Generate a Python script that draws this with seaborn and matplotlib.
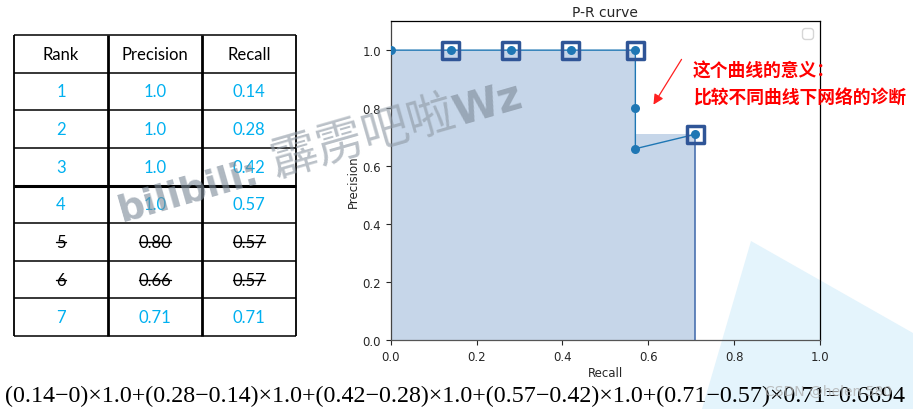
import numpy as np
import matplotlib
matplotlib.use('Agg')
import matplotlib.pyplot as plt
import seaborn as sns
from matplotlib.patches import Polygon, FancyArrowPatch
from matplotlib.lines import Line2D

# table data
ranks = ['1', '2', '3', '4', '5', '6', '7']
precision_txt = ['1.0', '1.0', '1.0', '1.0', '0.80', '0.66', '0.71']
recall_txt = ['0.14', '0.28', '0.42', '0.57', '0.57', '0.57', '0.71']
struck = [False, False, False, False, True, True, False]
headers = ['Rank', 'Precision', 'Recall']

precision = [float(v) for v in precision_txt]
recall = [float(v) for v in recall_txt]

formula = ('(0.14\u22120)\u00d71.0+(0.28\u22120.14)\u00d71.0+(0.42\u22120.28)\u00d71.0+'
           '(0.57\u22120.42)\u00d71.0+(0.71\u22120.57)\u00d70.71=0.6694')

# watermark pieces: text, weight, colour, size
wm_parts = [('bilibili:', 'bold', '#7d8b99', 27), (' 霹雳吧啦', 'normal', '#8f9aa5', 34),
            ('Wz', 'bold', '#7d8b99', 30)]

sns.set_style('ticks')
plt.rcParams['font.family'] = ['DejaVu Sans', 'Noto Sans CJK SC']

W, H = 913, 410
fig = plt.figure(figsize=(W / 100, H / 100), dpi=100)

def fx(px):
    return px / W

def fy(py):
    return 1 - py / H

# light blue decoration in the corner
fig.add_artist(Polygon([(fx(751), fy(242)), (fx(913), fy(334)), (fx(913), fy(410)), (fx(702), fy(410))],
                       closed=True, transform=fig.transFigure, facecolor='#e4f4fc',
                       edgecolor='none', zorder=-1))

# ---- table ----
ax_t = fig.add_axes([fx(14), fy(337), fx(296) - fx(14), fy(36) - fy(337)])
ax_t.set_xlim(0, 3)
ax_t.set_ylim(8, 0)
ax_t.axis('off')
ax_t.patch.set_alpha(0)
for i in range(9):
    lw = 2.2 if i == 4 else 1.1
    ax_t.plot([0, 3], [i, i], color='black', lw=lw, clip_on=False, solid_capstyle='butt')
for j in range(4):
    lw = 1.3 if j in (0, 3) else 2.0
    ax_t.plot([j, j], [0, 8], color='black', lw=lw, clip_on=False, solid_capstyle='butt')

tfont = dict(family='Lato', fontsize=12, ha='center', va='center')
for j, h in enumerate(headers):
    ax_t.text(j + 0.5, 0.5, h, color='black', **tfont)

strike_texts = []
for i in range(len(ranks)):
    col = 'black' if struck[i] else '#00b0f0'
    for j, v in enumerate([ranks[i], precision_txt[i], recall_txt[i]]):
        t = ax_t.text(j + 0.5, i + 1.5, v, color=col, **tfont)
        if struck[i]:
            strike_texts.append(t)

# ---- P-R curve ----
ax = fig.add_axes([0.428, 0.168, 0.470, 0.778])
ax.patch.set_alpha(0)

curve_r = [0.0] + recall
curve_p = [1.0] + precision
kept_r = [r for r, s in zip(recall, struck) if not s]
kept_p = [p for p, s in zip(precision, struck) if not s]

ax.fill_between([0.0] + kept_r, [kept_p[0]] + kept_p, step='pre',
                color='#c6d6e9', linewidth=0, zorder=1)
ax.vlines(kept_r[-1], 0, kept_p[-1], color='#4a72b0', lw=1.2, zorder=2)
sns.lineplot(x=curve_r, y=curve_p, sort=False, estimator=None, marker='o',
             markersize=6.5, markeredgewidth=0, color='#1f77b4', lw=1, ax=ax, zorder=3)
sns.scatterplot(x=kept_r, y=kept_p, marker='s', s=150, facecolor='none',
                edgecolor='#2f5597', linewidth=2.5, ax=ax, zorder=4)

ax.set_xlim(0, 1)
ax.set_ylim(0, 1.1)
ax.set_xticks(np.arange(0, 1.01, 0.2))
ax.set_yticks(np.arange(0, 1.01, 0.2))
ax.tick_params(labelsize=8.5, length=3.5, width=0.8)
ax.set_xlabel('Recall', fontsize=8.5, labelpad=2)
ax.set_ylabel('Precision', fontsize=8.5, labelpad=2)
ax.set_title('P-R curve', fontsize=10, pad=4)
for sp in ax.spines.values():
    sp.set_linewidth(0.9)
    sp.set_color('black')
ax.spines['left'].set_color('#444444')
ax.spines['bottom'].set_color('#555555')
ax.legend(handles=[], loc='upper right', frameon=True)

# red annotation
fig.add_artist(FancyArrowPatch((fx(683), fy(58)), (fx(652), fy(108)), transform=fig.transFigure,
                               arrowstyle='-|>,head_length=6,head_width=3', mutation_scale=1,
                               color='#ff2020', facecolor='white', lw=0.9))
fig.text(fx(693), fy(72), '这个曲线的意义：', color='#ff0000', fontsize=12.8, fontweight='bold',
         family=['Noto Sans CJK SC', 'DejaVu Sans'], va='center', ha='left')
fig.text(fx(693), fy(98), '比较不同曲线下网络的诊断', color='#ff0000', fontsize=12.8, fontweight='bold',
         family=['Noto Sans CJK SC', 'DejaVu Sans'], va='center', ha='left')

# formula
ftxt = fig.text(fx(5), fy(396), formula, family='Liberation Serif', fontsize=15,
                va='center', ha='left', color='black')

fig.text(fx(828), fy(392), 'CSDN @helen 580', color='#b0b0b0', alpha=0.8, fontsize=10,
         ha='center', va='center', zorder=10)

# fit formula width and draw strike lines
fig.canvas.draw()
renderer = fig.canvas.get_renderer()
bb = ftxt.get_window_extent(renderer)
ftxt.set_fontsize(15 * 900 / bb.width)
for t in strike_texts:
    b = t.get_window_extent(renderer)
    ym = (b.y0 + b.y1) / 2
    fig.add_artist(Line2D([b.x0 / W, b.x1 / W], [ym / H, ym / H], transform=fig.transFigure,
                          color='black', lw=1.0))

# rotated watermark built from pieces
ang = np.deg2rad(16)
px, py = 122.0, H - 222.0
for txt, wt, col, fs in wm_parts:
    fig.text(px / W, py / H, txt, color=col, alpha=0.62, fontsize=fs, fontweight=wt,
             rotation=16, rotation_mode='anchor', ha='left', va='baseline',
             family=['DejaVu Sans', 'Noto Sans CJK SC'], zorder=10)
    tmp = fig.text(0, 0, txt, fontsize=fs, fontweight=wt, family=['DejaVu Sans', 'Noto Sans CJK SC'])
    wpx = tmp.get_window_extent(renderer).width
    tmp.remove()
    px += wpx * np.cos(ang)
    py += wpx * np.sin(ang)

fig.savefig('out.png', dpi=100)
